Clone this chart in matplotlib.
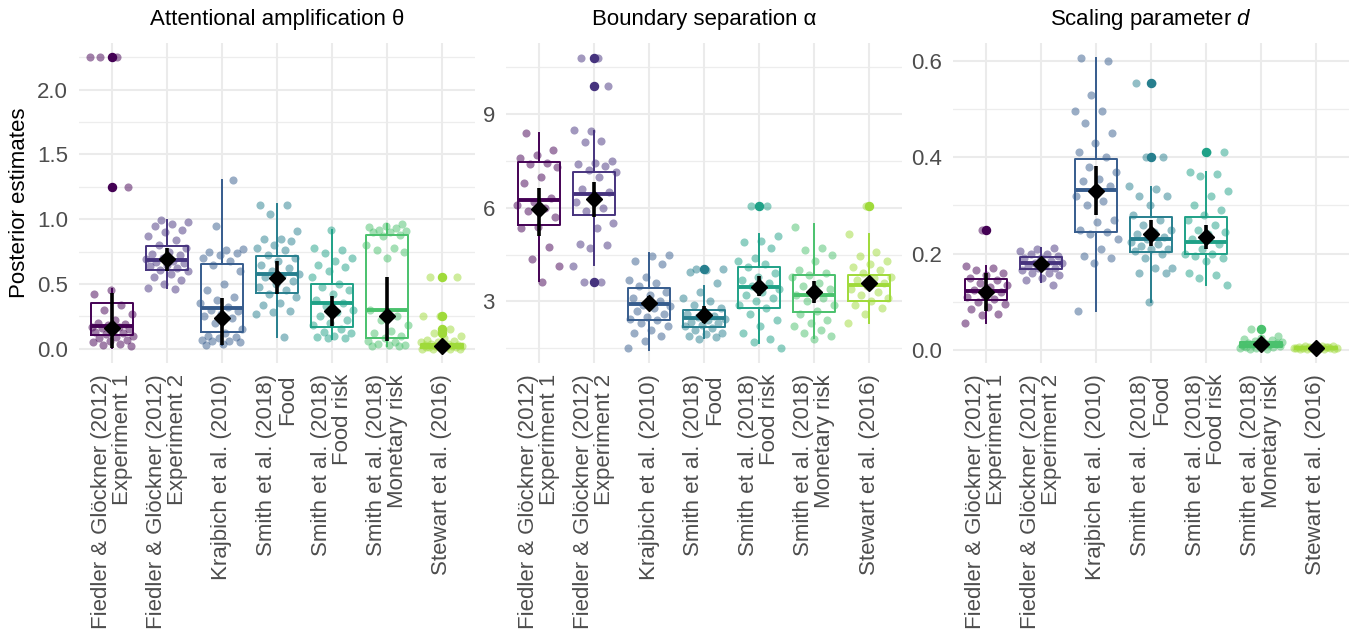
import numpy as np
import matplotlib.pyplot as plt

plt.rcParams['font.family'] = ['Liberation Sans', 'DejaVu Sans']
plt.rcParams['mathtext.fontset'] = 'custom'
plt.rcParams['mathtext.rm'] = 'Liberation Sans'
plt.rcParams['mathtext.it'] = 'Liberation Sans:italic'

# studies / colours (viridis, 8 levels, yellow dropped)
studies = ['Fiedler & Glöckner (2012)\nExperiment 1',
           'Fiedler & Glöckner (2012)\nExperiment 2',
           'Krajbich et al. (2010)',
           'Smith et al. (2018)\nFood',
           'Smith et al. (2018)\nFood risk',
           'Smith et al. (2018)\nMonetary risk',
           'Stewart et al. (2016)']
colors = ['#440154', '#46337E', '#365C8D', '#277F8E', '#1FA187', '#4AC16D', '#9FDA3A']
titles = ['Attentional amplification θ', 'Boundary separation α', r'Scaling parameter $d$']

# ---------- theta ----------
theta_pts = [
    [2.25, 2.25, 2.25, 1.245, 0.45, 0.42, 0.34, 0.30, 0.27, 0.22, 0.20, 0.19, 0.18, 0.17, 0.17,
     0.16, 0.15, 0.14, 0.13, 0.12, 0.11, 0.10, 0.09, 0.08, 0.07, 0.06, 0.05, 0.04, 0.03, 0.02],
    [0.99, 0.98, 0.96, 0.95, 0.92, 0.90, 0.87, 0.84, 0.80, 0.78, 0.75, 0.73, 0.72, 0.70, 0.69,
     0.68, 0.67, 0.66, 0.65, 0.64, 0.62, 0.61, 0.60, 0.58, 0.55, 0.53, 0.50, 0.47, 0.46],
    [1.30, 0.95, 0.77, 0.76, 0.75, 0.74, 0.72, 0.70, 0.68, 0.65, 0.60, 0.50, 0.45, 0.40, 0.38,
     0.35, 0.32, 0.30, 0.29, 0.27, 0.25, 0.24, 0.20, 0.15, 0.12, 0.10, 0.09, 0.08, 0.07, 0.06,
     0.06, 0.05, 0.04, 0.03],
    [1.11, 1.11, 1.04, 0.91, 0.85, 0.85, 0.83, 0.80, 0.78, 0.76, 0.72, 0.70, 0.68, 0.65, 0.62,
     0.60, 0.58, 0.56, 0.55, 0.52, 0.50, 0.48, 0.45, 0.42, 0.40, 0.35, 0.34, 0.29, 0.28, 0.27, 0.09],
    [0.92, 0.78, 0.76, 0.74, 0.70, 0.68, 0.65, 0.63, 0.60, 0.55, 0.50, 0.48, 0.45, 0.42, 0.38,
     0.35, 0.33, 0.30, 0.28, 0.25, 0.22, 0.20, 0.18, 0.15, 0.13, 0.12, 0.10, 0.09, 0.08, 0.08],
    [0.96, 0.95, 0.94, 0.93, 0.92, 0.91, 0.90, 0.90, 0.88, 0.87, 0.80, 0.78, 0.76, 0.75, 0.70,
     0.30, 0.25, 0.22, 0.18, 0.14, 0.12, 0.10, 0.08, 0.06, 0.05, 0.04, 0.03, 0.03, 0.02, 0.02],
    [0.55, 0.55, 0.25, 0.25, 0.15, 0.12, 0.10, 0.08, 0.07, 0.06, 0.05, 0.05, 0.04, 0.04, 0.03,
     0.03, 0.03, 0.02, 0.02, 0.02, 0.01, 0.01, 0.01, 0.01, 0.00, 0.00, 0.00, 0.00, 0.02, 0.01],
]
theta_out = [[2.25, 1.245], [], [], [], [], [], [0.55, 0.25, 0.15, 0.12]]
theta_q1 = [0.103, 0.606, 0.129, 0.433, 0.168, 0.080, 0.004]
theta_med = [0.175, 0.686, 0.317, 0.575, 0.350, 0.296, 0.015]
theta_q3 = [0.350, 0.790, 0.657, 0.716, 0.500, 0.876, 0.040]
theta_wlo = [0.005, 0.470, 0.030, 0.093, 0.077, 0.020, 0.000]
theta_whi = [0.460, 0.990, 1.304, 1.116, 0.918, 0.961, 0.090]
theta_mean = [0.16, 0.69, 0.24, 0.544, 0.29, 0.25, 0.02]
theta_lo = [0.005, 0.60, 0.03, 0.42, 0.175, 0.06, 0.005]
theta_hi = [0.43, 0.78, 0.39, 0.68, 0.41, 0.557, 0.04]

# ---------- alpha ----------
alpha_pts = [
    [8.40, 7.85, 7.70, 7.60, 7.45, 7.40, 7.30, 7.00, 6.80, 6.30, 6.20, 6.10, 6.00, 5.90, 5.70,
     5.40, 5.35, 4.75, 4.35, 4.13, 3.62],
    [10.8, 10.8, 9.9, 8.46, 8.48, 8.13, 8.10, 7.50, 7.45, 7.40, 7.35, 7.20, 7.15, 7.00, 6.60,
     6.50, 6.30, 6.20, 6.00, 5.90, 5.50, 5.35, 4.85, 4.80, 4.70, 4.15, 3.62, 3.62],
    [4.50, 4.45, 4.30, 4.20, 3.80, 3.70, 3.60, 3.50, 3.30, 3.20, 3.10, 3.00, 2.90, 2.85, 2.80,
     2.70, 2.60, 2.50, 2.45, 2.40, 2.30, 2.20, 2.10, 2.00, 1.90, 1.75, 1.50],
    [4.03, 4.03, 4.00, 3.95, 3.60, 3.30, 3.10, 3.00, 2.90, 2.80, 2.70, 2.60, 2.55, 2.50, 2.45,
     2.40, 2.35, 2.30, 2.25, 2.20, 2.15, 2.10, 2.00, 1.95, 1.90, 1.85, 1.80],
    [6.05, 6.05, 5.10, 4.95, 4.90, 4.70, 4.40, 4.30, 4.20, 4.10, 3.90, 3.80, 3.70, 3.60, 3.50,
     3.40, 3.30, 3.20, 3.10, 3.00, 2.90, 2.80, 2.60, 2.40, 2.20, 2.00, 1.80, 1.70, 1.50],
    [5.40, 4.70, 4.65, 4.50, 4.30, 4.00, 3.90, 3.85, 3.80, 3.60, 3.50, 3.40, 3.30, 3.20, 3.10,
     3.00, 2.90, 2.70, 2.60, 2.40, 2.30, 2.20, 2.10, 2.00, 1.90, 1.80],
    [6.07, 5.15, 4.60, 4.45, 4.30, 4.20, 4.10, 4.00, 3.90, 3.80, 3.75, 3.70, 3.60, 3.50, 3.40,
     3.30, 3.20, 3.10, 3.00, 2.90, 2.80, 2.60, 2.30],
]
alpha_out = [[], [10.8, 9.9, 3.62], [], [4.03], [6.07], [], [6.07]]
alpha_q1 = [5.44, 5.77, 2.40, 2.18, 2.79, 2.67, 3.03]
alpha_med = [6.25, 6.45, 2.93, 2.48, 3.47, 3.20, 3.54]
alpha_q3 = [7.47, 7.16, 3.44, 2.74, 4.10, 3.86, 3.86]
alpha_wlo = [3.65, 4.16, 1.46, 1.82, 1.68, 1.82, 2.32]
alpha_whi = [8.40, 8.46, 4.54, 3.51, 5.15, 5.47, 5.15]
alpha_mean = [5.95, 6.29, 2.96, 2.58, 3.47, 3.31, 3.58]
alpha_lo = [5.09, 5.71, 2.74, 2.32, 3.17, 2.96, 3.44]
alpha_hi = [6.64, 6.82, 3.17, 2.85, 3.81, 3.65, 3.70]

# ---------- d ----------
d_pts = [
    [0.249, 0.175, 0.170, 0.165, 0.160, 0.155, 0.150, 0.145, 0.140, 0.135, 0.130, 0.125, 0.120,
     0.115, 0.110, 0.105, 0.100, 0.095, 0.090, 0.085, 0.075, 0.072, 0.055],
    [0.211, 0.210, 0.205, 0.200, 0.200, 0.195, 0.190, 0.190, 0.185, 0.180, 0.180, 0.175, 0.175,
     0.170, 0.170, 0.165, 0.160, 0.160, 0.155, 0.150, 0.145, 0.135],
    [0.605, 0.600, 0.530, 0.495, 0.495, 0.470, 0.450, 0.430, 0.410, 0.400, 0.380, 0.370, 0.355,
     0.350, 0.340, 0.330, 0.320, 0.310, 0.300, 0.270, 0.265, 0.250, 0.245, 0.240, 0.230, 0.210,
     0.195, 0.190, 0.180, 0.080],
    [0.555, 0.555, 0.401, 0.401, 0.340, 0.335, 0.320, 0.320, 0.300, 0.280, 0.270, 0.260, 0.250,
     0.245, 0.240, 0.235, 0.230, 0.225, 0.220, 0.215, 0.210, 0.210, 0.205, 0.200, 0.190, 0.170,
     0.170, 0.160, 0.160, 0.100],
    [0.410, 0.410, 0.370, 0.365, 0.360, 0.330, 0.320, 0.300, 0.290, 0.280, 0.270, 0.260, 0.250,
     0.245, 0.240, 0.230, 0.220, 0.210, 0.200, 0.200, 0.195, 0.190, 0.185, 0.160, 0.155, 0.150,
     0.135],
    [0.044, 0.030, 0.025, 0.022, 0.020, 0.018, 0.016, 0.015, 0.014, 0.013, 0.012, 0.011, 0.010,
     0.010, 0.009, 0.008, 0.007, 0.006, 0.005, 0.004, 0.003, 0.002, 0.015, 0.012, 0.009],
    [0.009, 0.008, 0.008, 0.007, 0.007, 0.006, 0.006, 0.005, 0.005, 0.005, 0.004, 0.004, 0.004,
     0.003, 0.003, 0.003, 0.002, 0.002, 0.006, 0.005, 0.004],
]
d_out = [[0.249], [], [], [0.555, 0.401], [0.410], [0.044], []]
d_q1 = [0.104, 0.169, 0.244, 0.204, 0.200, 0.006, 0.003]
d_med = [0.123, 0.181, 0.332, 0.230, 0.225, 0.011, 0.005]
d_q3 = [0.148, 0.192, 0.396, 0.275, 0.275, 0.017, 0.007]
d_wlo = [0.055, 0.142, 0.080, 0.100, 0.135, 0.001, 0.001]
d_whi = [0.174, 0.211, 0.605, 0.339, 0.370, 0.030, 0.009]
d_mean = [0.120, 0.178, 0.329, 0.241, 0.235, 0.012, 0.005]
d_lo = [0.080, 0.163, 0.280, 0.215, 0.210, 0.009, 0.004]
d_hi = [0.160, 0.190, 0.381, 0.270, 0.260, 0.015, 0.006]

panels = [
    (theta_pts, theta_out, theta_q1, theta_med, theta_q3, theta_wlo, theta_whi,
     theta_mean, theta_lo, theta_hi, (-0.11, 2.36), [0, 0.5, 1.0, 1.5, 2.0],
     [0.25, 0.75, 1.25, 1.75, 2.25], '{:.1f}'),
    (alpha_pts, alpha_out, alpha_q1, alpha_med, alpha_q3, alpha_wlo, alpha_whi,
     alpha_mean, alpha_lo, alpha_hi, (1.03, 11.28), [3, 6, 9],
     [1.5, 4.5, 7.5, 10.5], '{:.0f}'),
    (d_pts, d_out, d_q1, d_med, d_q3, d_wlo, d_whi,
     d_mean, d_lo, d_hi, (-0.027, 0.637), [0, 0.2, 0.4, 0.6],
     [0.1, 0.3, 0.5], '{:.1f}'),
]

W, H = 1352, 633
fig = plt.figure(figsize=(W / 100, H / 100), dpi=100)
lefts = [79, 506, 953]
grey = '#4D4D4D'

for k, (pts, outs, q1, med, q3, wlo, whi, mn, lo, hi, ylim, yt, ymin_t, fmt) in enumerate(panels):
    ax = fig.add_axes([lefts[k] / W, 1 - 363 / H, 396 / W, 320 / H])
    xs = np.arange(len(studies))

    # grid
    for v in yt:
        ax.axhline(v, color='#EBEBEB', lw=1.5, zorder=0)
    for v in ymin_t:
        ax.axhline(v, color='#EDEDED', lw=0.9, zorder=0)
    for x in xs:
        ax.axvline(x, color='#EBEBEB', lw=1.5, zorder=0)

    for g in range(len(studies)):
        col = colors[g]
        # jittered points
        n = len(pts[g])
        off = ((np.arange(n) * 0.618034 + g * 0.37 + k * 0.21) % 1 - 0.5) * 0.8
        ax.scatter(xs[g] + off, pts[g], s=34, color=col, alpha=0.5, lw=0, zorder=2)
        # boxplot
        st = [dict(q1=q1[g], med=med[g], q3=q3[g], whislo=wlo[g], whishi=whi[g], fliers=outs[g])]
        ax.bxp(st, positions=[xs[g]], widths=0.75, showcaps=False, manage_ticks=False,
               boxprops=dict(color=col, lw=1.4),
               whiskerprops=dict(color=col, lw=1.4),
               medianprops=dict(color=col, lw=2.8),
               flierprops=dict(marker='o', markerfacecolor=col, markeredgecolor=col,
                               markersize=5.8, alpha=1),
               zorder=3)
        # mean and interval
        ax.plot([xs[g], xs[g]], [lo[g], hi[g]], color='black', lw=2.6, zorder=4,
                solid_capstyle='butt')
        ax.plot(xs[g], mn[g], marker='D', color='black', ms=8, zorder=5)

    ax.set_xlim(-0.6, len(studies) - 0.4)
    ax.set_ylim(*ylim)
    ax.set_yticks(yt)
    ax.set_yticklabels([fmt.format(v) for v in yt])
    ax.set_xticks(xs)
    ax.set_xticklabels(studies, rotation=90, ha='center', va='top', multialignment='right',
                       linespacing=1.0)
    ax.tick_params(length=0, labelsize=16, labelcolor=grey)
    ax.tick_params(axis='y', pad=8)
    ax.tick_params(axis='x', pad=8)
    for s in ax.spines.values():
        s.set_visible(False)
    ax.set_title(titles[k], fontsize=16, pad=13)

fig.text(20 / W, 1 - 203 / H, 'Posterior estimates', rotation=90, ha='center', va='center',
         fontsize=16)

fig.savefig('out.png', dpi=100)
